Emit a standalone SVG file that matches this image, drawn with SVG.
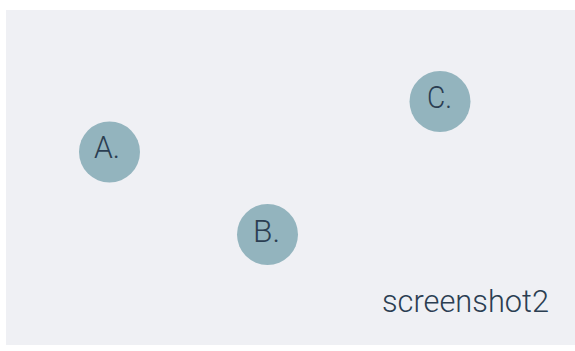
<svg xmlns="http://www.w3.org/2000/svg" width="575" height="351" viewBox="0 0 575 351">
  <style>
    .node circle { fill: #93b4be; }
    .lbl { font-family: Roboto, "Liberation Sans", sans-serif; font-weight: 300; font-size: 31px; fill: #2b3e52; }
  </style>
  <rect x="0" y="0" width="575" height="351" fill="#ffffff"/>
  <rect x="6" y="10" width="569" height="335" fill="#eff0f4"/>
  <g id="connectors"></g>
  <g id="node-a" class="node">
    <circle cx="109.5" cy="152" r="30.5"/>
    <text class="lbl" x="94" y="158" textLength="26" lengthAdjust="spacingAndGlyphs">A.</text>
  </g>
  <g id="node-b" class="node">
    <circle cx="267.5" cy="234.5" r="30.5"/>
    <text class="lbl" x="253" y="241.5" textLength="27" lengthAdjust="spacingAndGlyphs">B.</text>
  </g>
  <g id="node-c" class="node">
    <circle cx="440" cy="101.5" r="30.5"/>
    <text class="lbl" x="427" y="108" textLength="25" lengthAdjust="spacingAndGlyphs">C.</text>
  </g>
  <text class="lbl" x="382" y="312" font-size="28" textLength="167" lengthAdjust="spacingAndGlyphs">screenshot2</text>
</svg>
